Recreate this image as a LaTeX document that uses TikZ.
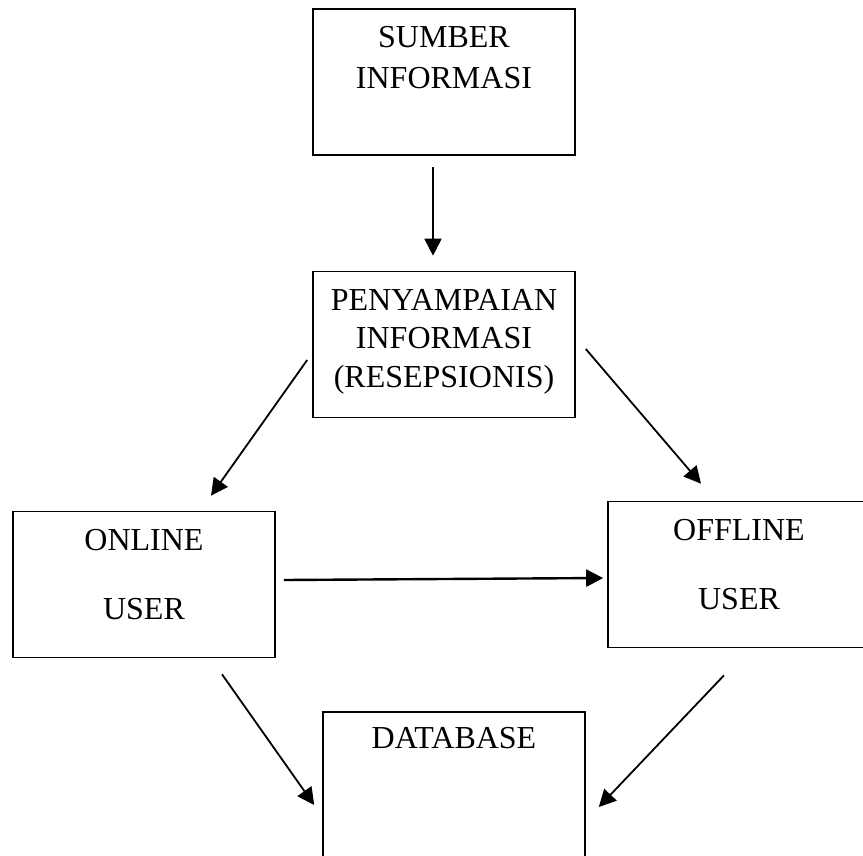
\documentclass[tikz,border=0pt]{standalone}
\usepackage{fontspec}
\setmainfont{Liberation Serif}
\usetikzlibrary{arrows.meta}

\begin{document}
\begin{tikzpicture}[x=1pt,y=-1pt,
  box/.style={draw=black,line width=1.6pt,minimum width=262pt,minimum height=146pt,inner sep=0pt},
  lbl/.style={anchor=north,inner sep=0pt,align=center,font=\fontsize{32}{41}\selectfont},
  flow/.style={line width=1.8pt,-{Triangle[length=17pt,width=17pt]}},
  flowT/.style={flow,line width=2.4pt}]
\def\dt{18};

\useasboundingbox (0,0) rectangle (863,855);

% kotak
\node[box] (src) at (444,82) {};
\node[box] (pny) at (444,344.5) {};
\node[box] (onl) at (144,584.5) {};
\node[box,minimum width=270pt] (ofl) at (743,574.5) {};
\node[box] (db) at (454,785) {};

% teks
\node[lbl] (srcT) at ([shift={(0,\dt)}]src.north) {SUMBER\\INFORMASI};
\node[lbl] (pnyT) at ([shift={(0,\dt)}]pny.north) {PENYAMPAIAN\\[-3pt]INFORMASI\\[-2pt](RESEPSIONIS)};
\node[lbl] (onlT) at ([shift={(0,\dt)}]onl.north) {ONLINE\\[28pt]USER};
\node[lbl] (oflT) at ([shift={(-4,\dt)}]ofl.north) {OFFLINE\\[28pt]USER};
\node[lbl] (dbT) at ([shift={(0,\dt-2)}]db.north) {DATABASE};

% panah
\draw[flow] ([shift={(-11,11)}]src.south) -- ([shift={(-11,-15)}]pny.north);
\draw[flow] ([shift={(-5,15.5)}]pny.west) -- ([shift={(67,-15)}]onl.north);
\draw[flow] ([shift={(10,4.5)}]pny.east) -- ([shift={(-42,-17)}]ofl.north);
\draw[flowT] ([shift={(8,-4.5)}]onl.east) -- ([shift={(-4,3.5)}]ofl.west);
\draw[flow] ([shift={(78,16)}]onl.south) -- ([shift={(-8,20)}]db.west);
\draw[flow] ([shift={(-19,27)}]ofl.south) -- ([shift={(13,22)}]db.east);
\end{tikzpicture}
\end{document}
